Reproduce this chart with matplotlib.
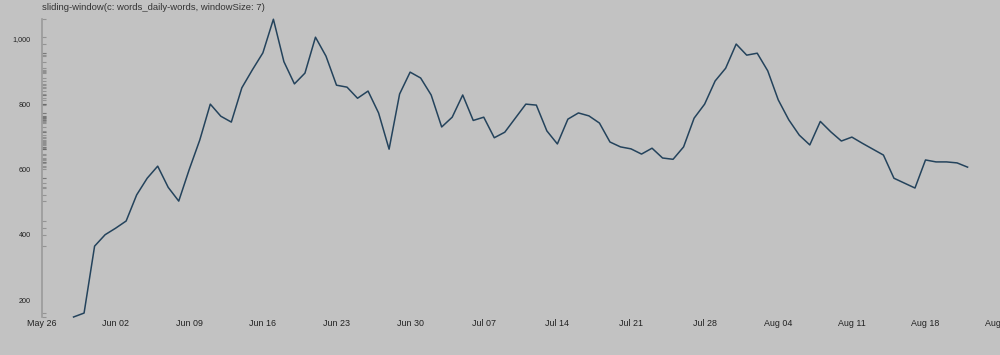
import numpy as np
import pandas as pd
import matplotlib
matplotlib.use("Agg")
from matplotlib import pyplot as plt

# daily words, 7-day sliding window
start_date = "2014-05-29"
window_values = [
    148, 160, 365, 400, 420, 442, 522, 573, 610, 545,
    503, 600, 690, 800, 763, 745, 850, 905, 957, 1060,
    930, 862, 895, 1005, 947, 858, 852, 818, 840, 773,
    662, 831, 898, 880, 828, 730, 760, 828, 750, 760,
    697, 714, 757, 800, 797, 718, 678, 754, 773, 764,
    742, 684, 669, 663, 647, 665, 635, 631, 669, 757,
    800, 871, 910, 984, 950, 956, 902, 813, 752, 705,
    675, 747, 715, 687, 699, 680, 662, 644, 573, 558,
    543, 629, 623, 623, 620, 607,
]
tick_dates = pd.date_range("2014-05-26", "2014-08-25", freq="7D")
tick_labels = [d.strftime("%b %d") for d in tick_dates]
y_ticks = [200, 400, 600, 800, 1000]
title = "sliding-window(c: words_daily-words, windowSize: 7)"

plt.rcParams["font.family"] = ["Liberation Sans", "DejaVu Sans"]
bg = "#c2c2c2"

dates = pd.date_range(start_date, periods=len(window_values), freq="D")
series = pd.Series(window_values, index=dates)

fig = plt.figure(figsize=(10, 3.55), dpi=100, facecolor=bg)
ax = fig.add_axes([0.042, 1 - 318 / 355, 0.958, (318 - 15) / 355])
ax.set_facecolor(bg)

ax.plot(series.index, series.values, color="#24435c", lw=1.1)

ax.set_xlim(pd.Timestamp("2014-05-26"), pd.Timestamp("2014-08-25 02:00"))
ax.set_ylim(144.9, 1073)

for s in ("top", "right", "bottom"):
    ax.spines[s].set_visible(False)
ax.spines["left"].set_color("#9a9a9a")
ax.spines["left"].set_linewidth(1.2)
ax.spines["left"].set_bounds(min(window_values), max(window_values))

# rug of the values along the y axis
ax.hlines(window_values, 0, 0.0045, transform=ax.get_yaxis_transform(),
          color="#5a5a5a", lw=0.8, alpha=0.45, clip_on=False)

ax.set_xticks(tick_dates)
ax.set_xticklabels(tick_labels)
ax.set_yticks(y_ticks)
ax.set_yticklabels([f"{v:,}" for v in y_ticks])
ax.tick_params(axis="x", length=0, pad=1, labelsize=6.4, colors="#222222")
ax.tick_params(axis="y", length=0, pad=8, labelsize=5.2, colors="#222222")

fig.text(0.042, 1 - 8 / 355, title, fontsize=6.8, color="#333333",
         ha="left", va="center")

fig.savefig("out.png", dpi=100, facecolor=bg)
